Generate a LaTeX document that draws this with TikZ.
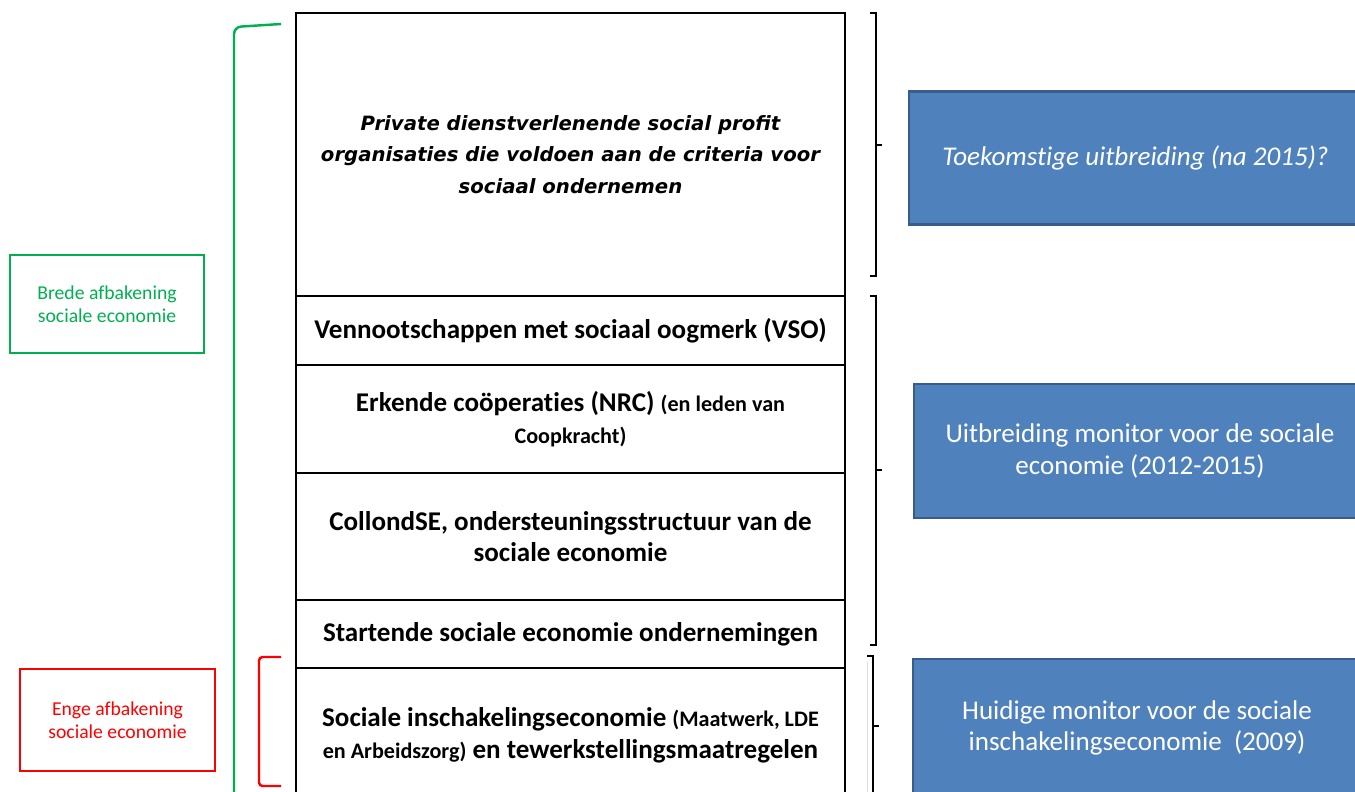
\documentclass[tikz,border=0pt]{standalone}
\usepackage{fontspec}
\setmainfont{Carlito}[Ligatures=NoCommon]
\newfontfamily\verdana{DejaVu Sans}
\definecolor{officeblue}{HTML}{4F81BD}
\definecolor{officeline}{HTML}{385D8A}
\definecolor{officegreen}{HTML}{00B050}
\newcommand\smallpart[1]{{\fontsize{12.6}{18}\selectfont #1}}
\newcommand\privfont{\verdana\bfseries\itshape\fontsize{11.2}{18}\selectfont}
\tikzset{
  row/.style={draw, line width=1.2pt, minimum width=10.98cm, align=center,
    font=\bfseries\fontsize{15.4}{18}\selectfont},
  monitor/.style={draw=officeline, line width=1.2pt, fill=officeblue, text=white,
    minimum width=9.06cm, align=center, font=\fontsize{15.4}{18}\selectfont},
  label/.style={line width=1.3pt, minimum width=3.88cm, minimum height=1.96cm,
    align=center, font=\fontsize{11.2}{13}\selectfont},
  brace/.style={line width=1pt},
  colbrace/.style={line width=1.4pt}
}
\begin{document}
\begin{tikzpicture}[x=0.02cm, y=-0.02cm]
      \useasboundingbox (0,0) rectangle (1355,791);
      \clip (0,0) rectangle (1355,791);

      % column of organisation types
      \node[row, minimum height=5.66cm] (priv) at (570.5,154.5)
        {\privfont Private dienstverlenende social profit\\
         \privfont organisaties die voldoen aan de criteria voor\\
         \privfont sociaal ondernemen};
      \node[row, minimum height=1.38cm] (vso) at (570.5,330.5)
        {Vennootschappen met sociaal oogmerk (VSO)};
      \node[row, minimum height=2.16cm] (coop) at (570.5,419)
        {Erkende coöperaties (NRC) \smallpart{(en leden van}\\
         \smallpart{Coopkracht)}};
      \node[row, minimum height=2.54cm] (coll) at (570.5,536.5)
        {CollondSE, ondersteuningsstructuur van de\\ sociale economie};
      \node[row, minimum height=1.36cm] (start) at (570.5,634)
        {Startende sociale economie ondernemingen};
      \node[row, minimum height=2.68cm] (sie) at (570.5,735)
        {Sociale inschakelingseconomie \smallpart{(Maatwerk, LDE}\\
         \smallpart{en Arbeidszorg)} en tewerkstellingsmaatregelen};

      % labels left
      \node[label, draw=officegreen, text=officegreen] (brede) at (107,304)
        {Brede afbakening\\ sociale economie};
      \node[label, draw=red, text=red, minimum width=3.9cm, minimum height=2.04cm] (enge) at (117.5,720)
        {Enge afbakening\\ sociale economie};

      \draw[colbrace, officegreen, rounded corners=4pt] (281,24) -- (234,27) -- (234,800);
      \draw[colbrace, red, rounded corners=2pt] (281,657) -- (259,657) -- (259,786) -- (281,786);

      % brackets right
      \draw[brace] (870,13) -- (876,13) -- (876,276) -- (870,276);
      \draw[brace] (876,145) -- (882,145);
      \draw[brace] (870,296) -- (876,296) -- (876,645) -- (870,645);
      \draw[brace] (876,470) -- (882,470);
      \draw[gray!25, thin] (867,662) -- (867,800);
      \draw[brace] (867,656) -- (873,656) -- (873,800);
      \draw[brace] (873,726) -- (879,726);

      % monitors
      \node[monitor, minimum height=2.66cm] (toek) at (1135.5,158)
        {\itshape Toekomstige uitbreiding (na 2015)?};
      \node[monitor, minimum height=2.68cm, minimum width=9.04cm] (uitb) at (1140,451)
        {Uitbreiding monitor voor de sociale\\ economie (2012-2015)};
      \node[monitor, minimum height=2.76cm, minimum width=8.96cm] (huid) at (1137,728)
        {Huidige monitor voor de sociale\\ inschakelingseconomie\ \ (2009)};
    \end{tikzpicture}
\end{document}
